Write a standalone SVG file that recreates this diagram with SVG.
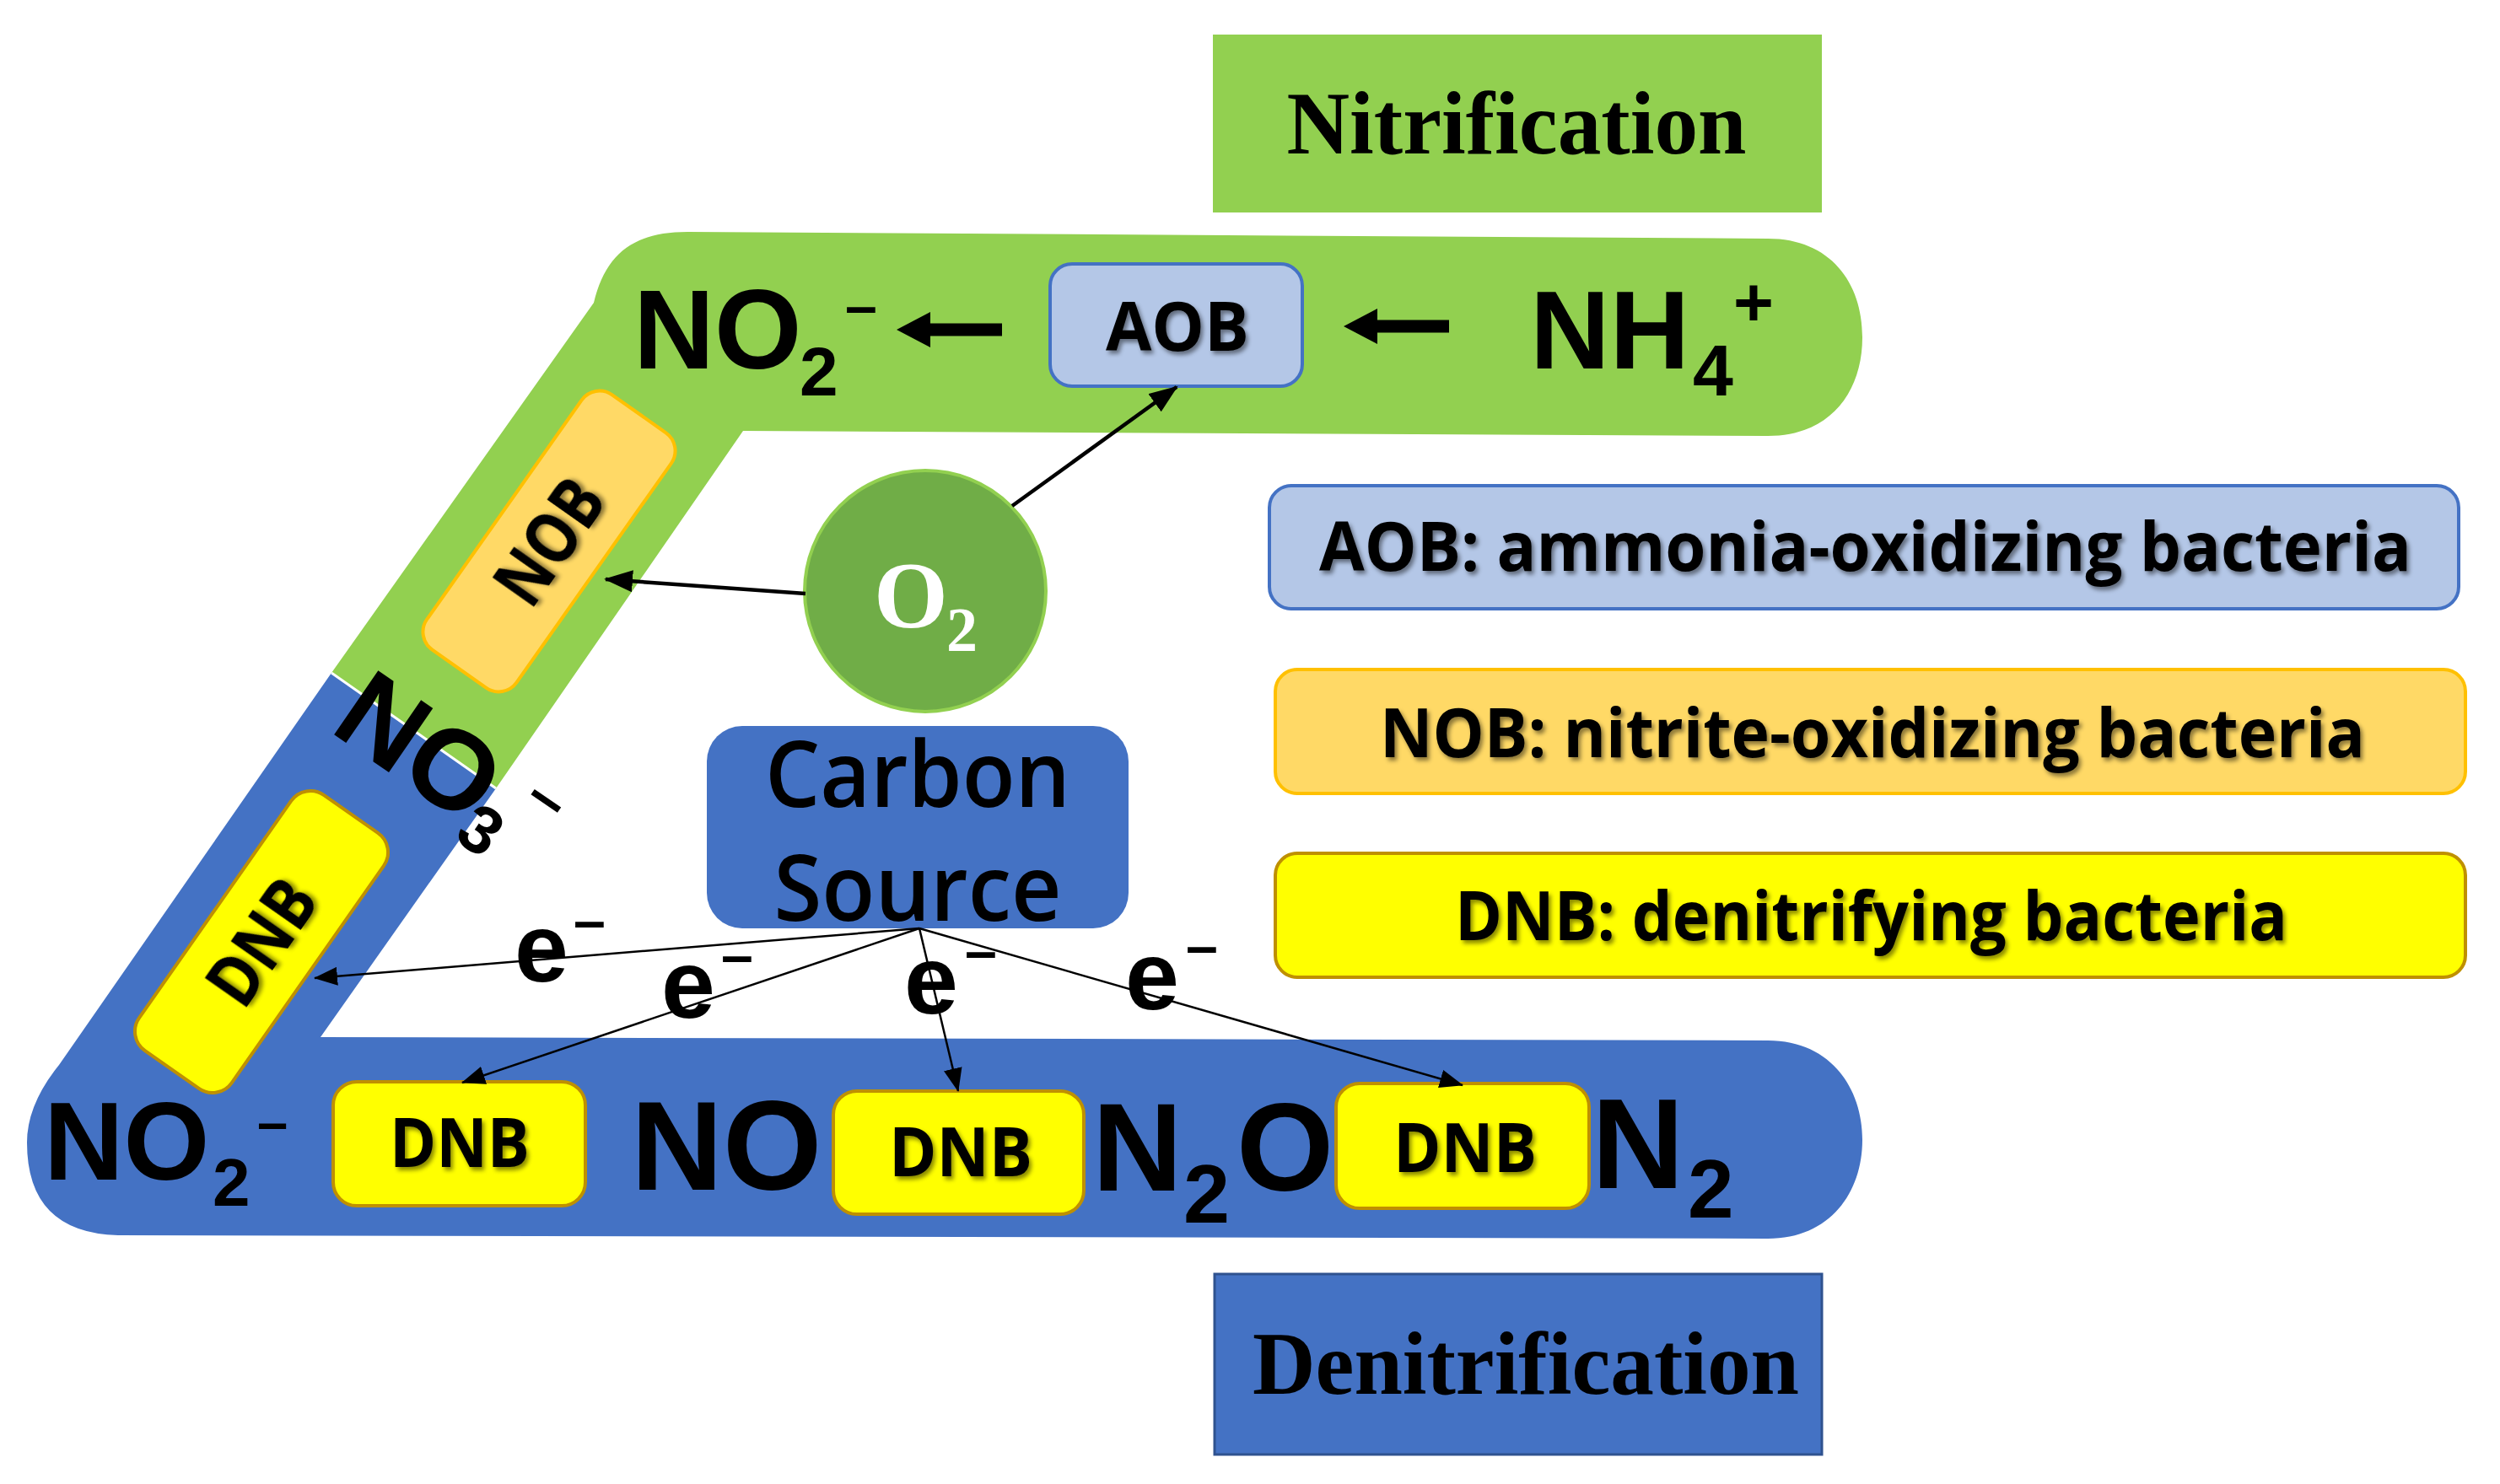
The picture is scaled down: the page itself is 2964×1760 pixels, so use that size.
<svg xmlns="http://www.w3.org/2000/svg" width="2964" height="1760" viewBox="0 0 2964 1760">
<style>
.chem{font-family:"Liberation Sans",Arial,sans-serif;font-weight:bold;fill:#000}
.lab{font-family:"Open Sans","Noto Sans",sans-serif;font-weight:bold;fill:#000}
.title{font-family:"Liberation Serif","Times New Roman",serif;font-weight:bold;fill:#000;text-anchor:middle}
.thin{stroke:#000;stroke-width:2.5;fill:none}
.thick{stroke:#000;stroke-width:4.5;fill:none}
</style>
<defs>
<filter id="sh" x="-10%" y="-20%" width="130%" height="160%"><feDropShadow dx="3" dy="4" stdDeviation="2.5" flood-color="#000" flood-opacity="0.45"/></filter>
<marker id="ahT" markerUnits="userSpaceOnUse" markerWidth="34" markerHeight="26" refX="32" refY="13" orient="auto"><path d="M0,0 L34,13 L0,26 z" fill="#000"/></marker>
<marker id="ahS" markerUnits="userSpaceOnUse" markerWidth="28" markerHeight="22" refX="27" refY="11" orient="auto"><path d="M0,0 L28,11 L0,22 z" fill="#000"/></marker>
</defs>
<rect width="2964" height="1760" fill="#fff"/>

<g id="bands">
<path id="band-nitrification" d="M704,359 C718,300 752,275 815,275 L2096,283 C2170,283 2208,335 2208,400 C2208,465 2170,517 2096,517 L881,511 L588,935 L393,798 Z" fill="#92D050"/>
<path id="band-denitrification" d="M393,798 L588,935 L380,1230 L2096,1234 C2170,1234 2208,1290 2208,1352 C2208,1414 2170,1469 2096,1469 L140,1465 Q32,1462 32,1355 Q32,1310 70,1263 Z" fill="#4472C4"/>
<path d="M393,798 L588,935" stroke="#fff" stroke-width="3"/>
</g>

<g id="nitrification-title">
<rect x="1438" y="41" width="722" height="211" fill="#92D050"/>
<text class="title" x="1798" y="182" font-size="105" textLength="545" lengthAdjust="spacingAndGlyphs">Nitrification</text>
</g>

<g id="denitrification-title">
<rect x="1440" y="1511" width="720" height="214" fill="#4472C4" stroke="#2F528F" stroke-width="3"/>
<text class="title" x="1809" y="1653" font-size="105" textLength="648" lengthAdjust="spacingAndGlyphs">Denitrification</text>
</g>

<g id="no2-top">
<text class="chem"><tspan x="751" y="437" font-size="133">NO</tspan><tspan x="948" y="469" font-size="82">2</tspan><tspan x="1002" y="386" font-size="68">–</tspan></text>
</g>

<g id="nh4">
<text class="chem"><tspan x="1814" y="437" font-size="131">NH</tspan><tspan x="2007" y="469" font-size="86">4</tspan><tspan x="2055" y="386" font-size="82">+</tspan></text>
</g>

<g id="aob">
<rect x="1245" y="313" width="299" height="145" rx="26" fill="#B4C7E7" stroke="#4472C4" stroke-width="4"/>
<text class="lab" x="1396" y="416" font-size="80" text-anchor="middle" textLength="170" lengthAdjust="spacingAndGlyphs" filter="url(#sh)">AOB</text>
</g>

<g id="nob" transform="translate(651,642) rotate(-54.8)">
<rect x="-185" y="-65" width="370" height="130" rx="26" fill="#FFD966" stroke="#FFC000" stroke-width="4"/>
<text class="lab" x="0" y="30" font-size="84" text-anchor="middle" textLength="160" lengthAdjust="spacingAndGlyphs" filter="url(#sh)">NOB</text>
</g>

<g id="o2">
<circle cx="1097" cy="701" r="143" fill="#70AD47" stroke="#92D050" stroke-width="4"/>
<text font-family="'Liberation Serif','Times New Roman',serif" font-weight="bold" fill="#fff"><tspan x="1036" y="744" font-size="113">O</tspan><tspan x="1122" y="772" font-size="74">2</tspan></text>
</g>

<g id="no3" transform="translate(397,872) rotate(34.5)">
<text class="chem"><tspan x="-10" y="0" font-size="134">NO</tspan><tspan x="184" y="22" font-size="80">3</tspan><tspan x="229" y="-57" font-size="77">–</tspan></text>
</g>

<g id="dnb-diag" transform="translate(310,1117) rotate(-55)">
<rect x="-185" y="-67" width="370" height="134" rx="28" fill="#FFFF00" stroke="#BF9000" stroke-width="4"/>
<text class="lab" x="0" y="30" font-size="84" text-anchor="middle" textLength="160" lengthAdjust="spacingAndGlyphs" filter="url(#sh)">DNB</text>
</g>

<g id="carbon-source">
<rect x="838" y="861" width="500" height="240" rx="42" fill="#4472C4"/>
<text font-family="'Open Sans','Noto Sans',sans-serif" font-weight="600" font-size="108" fill="#000" text-anchor="middle"><tspan x="1088" y="957" textLength="362" lengthAdjust="spacingAndGlyphs">Carbon</tspan><tspan x="1088" y="1092" textLength="341" lengthAdjust="spacingAndGlyphs">Source</tspan></text>
</g>

<g id="no2-bottom">
<text class="chem"><tspan x="52" y="1399" font-size="131">NO</tspan><tspan x="252" y="1430" font-size="80">2</tspan><tspan x="305" y="1353" font-size="65">–</tspan></text>
</g>

<g id="dnb-1">
<rect x="395" y="1283" width="299" height="147" rx="28" fill="#FFFF00" stroke="#BF9000" stroke-width="4"/>
<text class="lab" x="545" y="1384" font-size="80" text-anchor="middle" textLength="166" lengthAdjust="spacingAndGlyphs" filter="url(#sh)">DNB</text>
</g>

<g id="no">
<text class="chem" x="748" y="1411" font-size="151">NO</text>
</g>

<g id="dnb-2">
<rect x="988" y="1294" width="297" height="146" rx="28" fill="#FFFF00" stroke="#BF9000" stroke-width="4"/>
<text class="lab" x="1139" y="1395" font-size="80" text-anchor="middle" textLength="170" lengthAdjust="spacingAndGlyphs" filter="url(#sh)">DNB</text>
</g>

<g id="n2o">
<text class="chem"><tspan x="1295" y="1412" font-size="148">N</tspan><tspan x="1403" y="1450" font-size="99">2</tspan><tspan x="1466" y="1412" font-size="148">O</tspan></text>
</g>

<g id="dnb-3">
<rect x="1584" y="1285" width="300" height="148" rx="28" fill="#FFFF00" stroke="#BF9000" stroke-width="4"/>
<text class="lab" x="1737" y="1390" font-size="80" text-anchor="middle" textLength="170" lengthAdjust="spacingAndGlyphs" filter="url(#sh)">DNB</text>
</g>

<g id="n2">
<text class="chem"><tspan x="1887" y="1409" font-size="152">N</tspan><tspan x="2001" y="1444" font-size="98">2</tspan></text>
</g>

<g id="legend-aob">
<rect x="1505" y="576" width="1410" height="146" rx="26" fill="#B4C7E7" stroke="#4472C4" stroke-width="4"/>
<text class="lab" x="1564" y="677" font-size="81" textLength="1295" lengthAdjust="spacingAndGlyphs" filter="url(#sh)">AOB: ammonia-oxidizing bacteria</text>
</g>

<g id="legend-nob">
<rect x="1512" y="794" width="1411" height="147" rx="26" fill="#FFD966" stroke="#FFC000" stroke-width="4"/>
<text class="lab" x="1636" y="898" font-size="81" textLength="1168" lengthAdjust="spacingAndGlyphs" filter="url(#sh)">NOB: nitrite-oxidizing bacteria</text>
</g>

<g id="legend-dnb">
<rect x="1512" y="1012" width="1411" height="147" rx="26" fill="#FFFF00" stroke="#BF9000" stroke-width="4"/>
<text class="lab" x="1725" y="1115" font-size="81" textLength="987" lengthAdjust="spacingAndGlyphs" filter="url(#sh)">DNB: denitrifying bacteria</text>
</g>

<g id="electron-labels">
<text class="chem"><tspan x="610" y="1164" font-size="115">e</tspan><tspan x="680" y="1115" font-size="68">–</tspan></text>
<text class="chem"><tspan x="784" y="1207" font-size="115">e</tspan><tspan x="855" y="1156" font-size="68">–</tspan></text>
<text class="chem"><tspan x="1072" y="1202" font-size="115">e</tspan><tspan x="1144" y="1151" font-size="68">–</tspan></text>
<text class="chem"><tspan x="1334" y="1197" font-size="115">e</tspan><tspan x="1406" y="1145" font-size="68">–</tspan></text>
</g>

<g id="connectors">
<path d="M1063,391 L1103,370 L1103,383.5 L1188,383.5 L1188,398.5 L1103,398.5 L1103,412 Z" fill="#000"/>
<path d="M1593,387 L1633,366 L1633,379.5 L1718,379.5 L1718,394.5 L1633,394.5 L1633,408 Z" fill="#000"/>
<line class="thick" x1="1200" y1="600" x2="1395" y2="459" marker-end="url(#ahT)"/>
<line class="thick" x1="955" y1="704" x2="718" y2="687" marker-end="url(#ahT)"/>
<line class="thin" x1="1090" y1="1101" x2="373" y2="1160" marker-end="url(#ahS)"/>
<line class="thin" x1="1090" y1="1101" x2="548" y2="1284" marker-end="url(#ahS)"/>
<line class="thin" x1="1090" y1="1101" x2="1136" y2="1294" marker-end="url(#ahS)"/>
<line class="thin" x1="1090" y1="1101" x2="1734" y2="1287" marker-end="url(#ahS)"/>
</g>
</svg>
